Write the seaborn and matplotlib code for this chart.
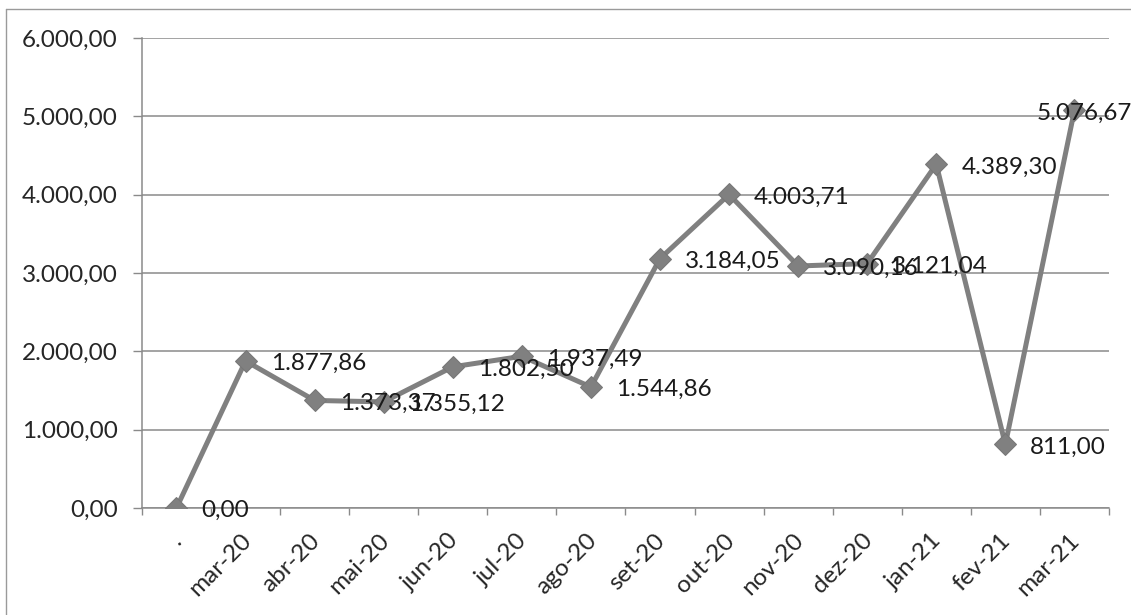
import numpy as np
import matplotlib
matplotlib.use('Agg')
import matplotlib.pyplot as plt
import matplotlib.transforms as mtransforms
from matplotlib.lines import Line2D
from matplotlib.ticker import FixedLocator, FuncFormatter
import seaborn as sns
import pandas as pd

meses = ['.', 'mar-20', 'abr-20', 'mai-20', 'jun-20', 'jul-20', 'ago-20',
         'set-20', 'out-20', 'nov-20', 'dez-20', 'jan-21', 'fev-21', 'mar-21']
valores = [0.00, 1877.86, 1373.37, 1355.12, 1802.50, 1937.49, 1544.86,
           3184.05, 4003.71, 3090.16, 3121.04, 4389.30, 811.00, 5076.67]

def fmt_br(v):
    # formato brasileiro: 1.234,56
    s = f'{v:,.2f}'
    return s.replace(',', 'X').replace('.', ',').replace('X', '.')

sns.set_style('white')
plt.rcParams['font.family'] = ['Lato', 'DejaVu Sans']

df = pd.DataFrame({'mes': meses, 'valor': valores})
df['pos'] = np.arange(len(meses))

fig = plt.figure(figsize=(11.31, 6.15), dpi=100)
ax = fig.add_axes([0.1255, 0.174, 0.9805 - 0.1255, 0.938 - 0.174])

cinza = '#808080'
sns.lineplot(data=df, x='pos', y='valor', ax=ax, color=cinza, linewidth=3.6,
             marker='D', markersize=11.5, markeredgecolor='#777777',
             markerfacecolor=cinza, zorder=3)

ax.set_xlim(-0.5, len(meses) - 0.5)
ax.set_ylim(0, 6000)
ax.set_xlabel('')
ax.set_ylabel('')

# eixo y
ax.yaxis.set_major_locator(FixedLocator(np.arange(0, 6001, 1000)))
ax.yaxis.set_major_formatter(FuncFormatter(lambda v, p: fmt_br(v)))
ax.grid(axis='y', color='#8a8a8a', linewidth=1.1, zorder=0)
ax.tick_params(axis='y', which='major', length=6.5, width=1, color='#8a8a8a',
               pad=11, labelsize=17.5, left=True)

# eixo x: ticks nos limites, rótulos no centro
ax.xaxis.set_major_locator(FixedLocator(df['pos']))
ax.set_xticklabels(meses)
ax.xaxis.set_minor_locator(FixedLocator(np.arange(-0.5, len(meses), 1)))
ax.tick_params(axis='x', which='major', length=0, pad=21, labelsize=17.5,
               bottom=True)
ax.tick_params(axis='x', which='minor', length=5, width=1, color='#8a8a8a',
               bottom=True)
offset = mtransforms.ScaledTranslation(2 / 100, 0, fig.dpi_scale_trans)
for lab in ax.get_xticklabels():
    lab.set_rotation(45)
    lab.set_ha('right')
    lab.set_va('center')
    lab.set_rotation_mode('anchor')
    lab.set_transform(lab.get_transform() + offset)

for s in ['top', 'right']:
    ax.spines[s].set_visible(False)
for s in ['left', 'bottom']:
    ax.spines[s].set_color('#8a8a8a')
    ax.spines[s].set_linewidth(1.1)

# rótulos de dados
for i, v in enumerate(valores):
    dx = 18
    if i == len(valores) - 1:
        dx = -27
    ax.annotate(fmt_br(v), (i, v), xytext=(dx, -2), textcoords='offset points',
                ha='left', va='center', fontsize=17.5, color='#1a1a1a', zorder=4)

# moldura do gráfico
fig.add_artist(Line2D([6 / 1131, 6 / 1131], [0, 1 - 9 / 615],
                      transform=fig.transFigure, color='#9a9a9a', linewidth=1))
fig.add_artist(Line2D([6 / 1131, 1], [1 - 9 / 615, 1 - 9 / 615],
                      transform=fig.transFigure, color='#9a9a9a', linewidth=1))

fig.savefig('out.png', dpi=100)
